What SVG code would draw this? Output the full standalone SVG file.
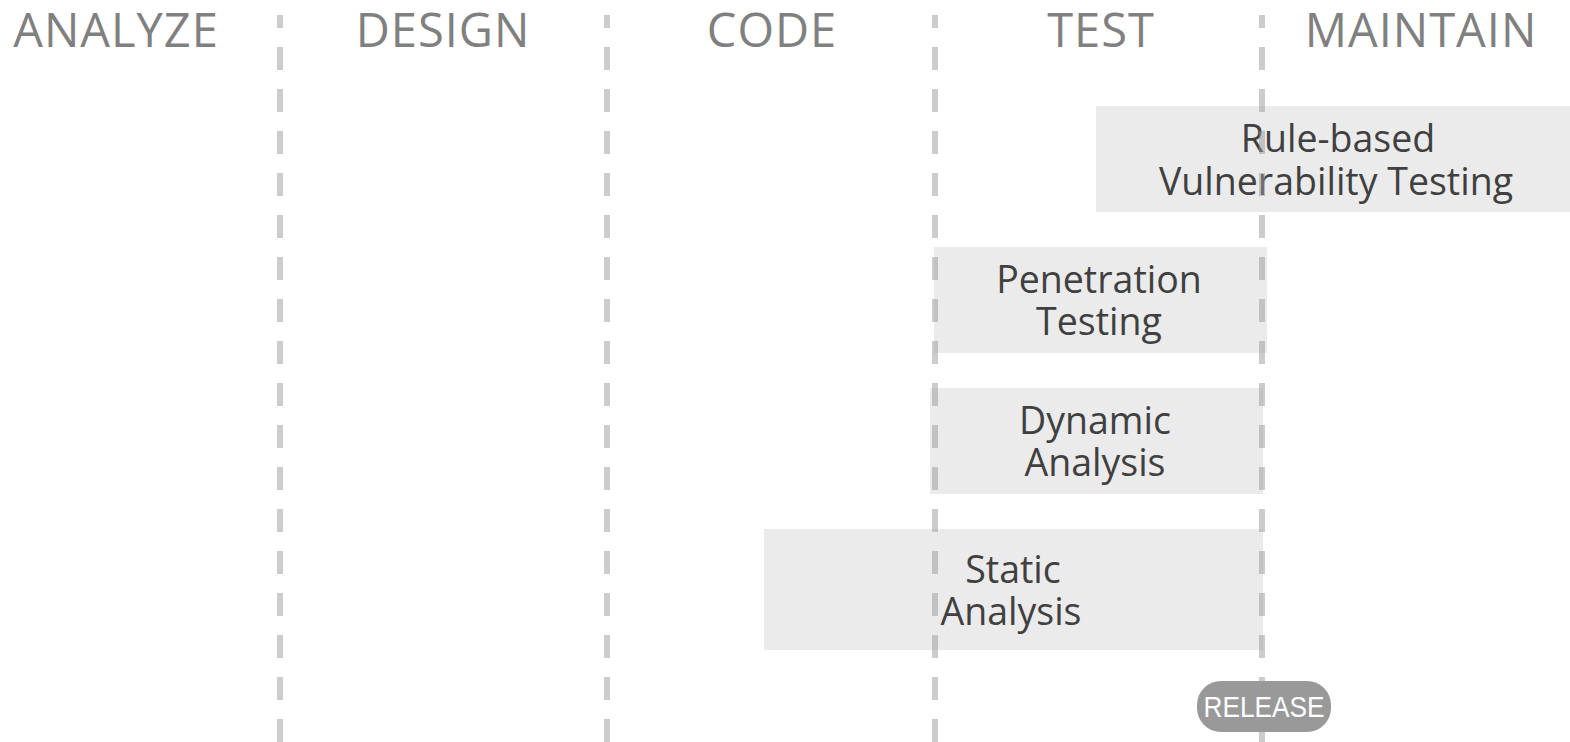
<svg xmlns="http://www.w3.org/2000/svg" width="1570" height="742" viewBox="0 0 1570 742">
  <style>
    .phase { font-family: "Open Sans", "Liberation Sans", sans-serif; font-size: 47px; letter-spacing: 1px; fill: #808080; text-anchor: middle; }
    .box { fill: #ebebeb; }
    .label { font-family: "Open Sans", "Liberation Sans", sans-serif; font-size: 37.5px; fill: #404040; text-anchor: middle; }
    .divider { stroke: #999999; stroke-opacity: 0.5; stroke-width: 6; stroke-dasharray: 23 19; stroke-dashoffset: 10; fill: none; }
    .badge { fill: #999999; }
    .badge-text { font-family: "Liberation Sans", Arial, sans-serif; font-size: 30px; fill: #ffffff; text-anchor: middle; }
  </style>

  <rect width="1570" height="742" fill="#ffffff"/>

  <!-- phase headings -->
  <g id="phases">
    <text class="phase" x="116" y="47">ANALYZE</text>
    <text class="phase" x="443" y="47">DESIGN</text>
    <text class="phase" x="772" y="47">CODE</text>
    <text class="phase" x="1101" y="47">TEST</text>
    <text class="phase" x="1421" y="47">MAINTAIN</text>
  </g>

  <!-- activity bars -->
  <g id="rule-based-testing">
    <rect class="box" x="1096" y="106" width="480" height="106"/>
    <text class="label" x="1338" y="152">Rule-based</text>
    <text class="label" x="1336" y="195">Vulnerability Testing</text>
  </g>
  <g id="penetration-testing">
    <rect class="box" x="934" y="247" width="333" height="106"/>
    <text class="label" x="1099" y="293">Penetration</text>
    <text class="label" x="1099" y="335">Testing</text>
  </g>
  <g id="dynamic-analysis">
    <rect class="box" x="930" y="388" width="333" height="106"/>
    <text class="label" x="1095" y="434">Dynamic</text>
    <text class="label" x="1095" y="476">Analysis</text>
  </g>
  <g id="static-analysis">
    <rect class="box" x="764" y="529" width="499" height="121"/>
    <text class="label" x="1013" y="583">Static</text>
    <text class="label" x="1011" y="625">Analysis</text>
  </g>

  <!-- phase boundaries -->
  <g id="connectors">
    <line class="divider" x1="280" y1="15" x2="280" y2="742"/>
    <line class="divider" x1="607" y1="15" x2="607" y2="742"/>
    <line class="divider" x1="935" y1="15" x2="935" y2="742"/>
    <line class="divider" x1="1262" y1="15" x2="1262" y2="742"/>
  </g>

  <!-- release marker -->
  <g id="release">
    <rect class="badge" x="1197" y="681" width="134" height="51" rx="24" ry="24"/>
    <text class="badge-text" x="1264" y="717" textLength="121" lengthAdjust="spacingAndGlyphs">RELEASE</text>
  </g>
</svg>
